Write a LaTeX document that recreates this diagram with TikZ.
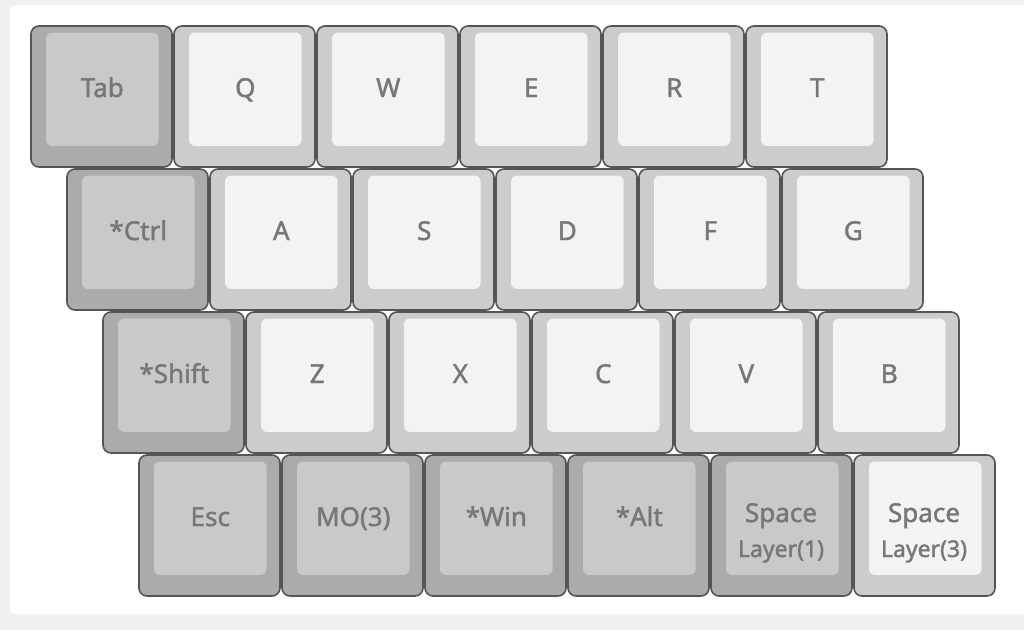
\documentclass[tikz,border=0pt]{standalone}
\usepackage{fontspec}
\setmainfont{Noto Sans}
\newfontfamily\keyfont{Noto Sans}[FakeBold=1.6]
\definecolor{bggray}{HTML}{F0F0F0}
\definecolor{keyedge}{HTML}{555555}
\definecolor{darkout}{HTML}{ABABAB}
\definecolor{darkin}{HTML}{C9C9C9}
\definecolor{lightout}{HTML}{CCCCCC}
\definecolor{lightin}{HTML}{F3F3F3}
\definecolor{labelgray}{HTML}{777777}
\tikzset{
  x=1pt,y=-1pt,
  keyouter/.style={draw=keyedge, line width=1.6pt, rounded corners=8pt, minimum width=141pt, minimum height=141pt, anchor=north west, inner sep=0pt, outer sep=0pt},
  keyinner/.style={rounded corners=6pt, minimum width=112.6pt, minimum height=113.4pt, anchor=north west, inner sep=0pt, outer sep=0pt},
  darkkey/.style={keyouter, fill=darkout},
  darkcap/.style={keyinner, fill=darkin},
  lightkey/.style={keyouter, fill=lightout},
  lightcap/.style={keyinner, fill=lightin},
  keylabel/.style={anchor=base, inner sep=0pt, text=labelgray, font=\keyfont\fontsize{26}{29}\selectfont},
  sublabel/.style={anchor=base, inner sep=0pt, text=labelgray, font=\keyfont\fontsize{23}{26}\selectfont},
}
% \kbkey{name}{row}{col}{kind}{label}
\newcommand\kbkey[5]{%
  \pgfmathsetmacro\kx{31+36*#2+143*#3}%
  \pgfmathsetmacro\ky{26+143*#2}%
  \node[#4key] (#1) at (\kx,\ky) {};
  \node[#4cap] (#1-cap) at (\kx+15,\ky+6.5) {};
  \node[keylabel] (#1-lbl) at (\kx+71.3,\ky+71) {#5};
}
\newcommand\kbkeytwo[6]{%
  \pgfmathsetmacro\kx{31+36*#2+143*#3}%
  \pgfmathsetmacro\ky{26+143*#2}%
  \node[#4key] (#1) at (\kx,\ky) {};
  \node[#4cap] (#1-cap) at (\kx+15,\ky+6.5) {};
  \node[keylabel] (#1-lbl) at (\kx+70,\ky+67) {#5};
  \node[sublabel] (#1-sub) at (\kx+70,\ky+102) {#6};
}
\begin{document}
\begin{tikzpicture}
\useasboundingbox (0,0) rectangle (1024,630);
\fill[bggray] (0,0) rectangle (1024,630);
\fill[white, rounded corners=6pt] (10,5) rectangle (1040,614);
% row 0
\kbkey{tab}{0}{0}{dark}{Tab}
\kbkey{q}{0}{1}{light}{Q}
\kbkey{w}{0}{2}{light}{W}
\kbkey{e}{0}{3}{light}{E}
\kbkey{r}{0}{4}{light}{R}
\kbkey{t}{0}{5}{light}{T}
% row 1
\kbkey{ctrl}{1}{0}{dark}{*Ctrl}
\kbkey{a}{1}{1}{light}{A}
\kbkey{s}{1}{2}{light}{S}
\kbkey{d}{1}{3}{light}{D}
\kbkey{f}{1}{4}{light}{F}
\kbkey{g}{1}{5}{light}{G}
% row 2
\kbkey{shift}{2}{0}{dark}{*Shift}
\kbkey{z}{2}{1}{light}{Z}
\kbkey{x}{2}{2}{light}{X}
\kbkey{c}{2}{3}{light}{C}
\kbkey{v}{2}{4}{light}{V}
\kbkey{b}{2}{5}{light}{B}
% row 3
\kbkey{esc}{3}{0}{dark}{Esc}
\kbkey{mo}{3}{1}{dark}{MO(3)}
\kbkey{win}{3}{2}{dark}{*Win}
\kbkey{alt}{3}{3}{dark}{*Alt}
\kbkeytwo{spa}{3}{4}{dark}{Space}{Layer(1)}
\kbkeytwo{spb}{3}{5}{light}{Space}{Layer(3)}
\end{tikzpicture}
\end{document}
